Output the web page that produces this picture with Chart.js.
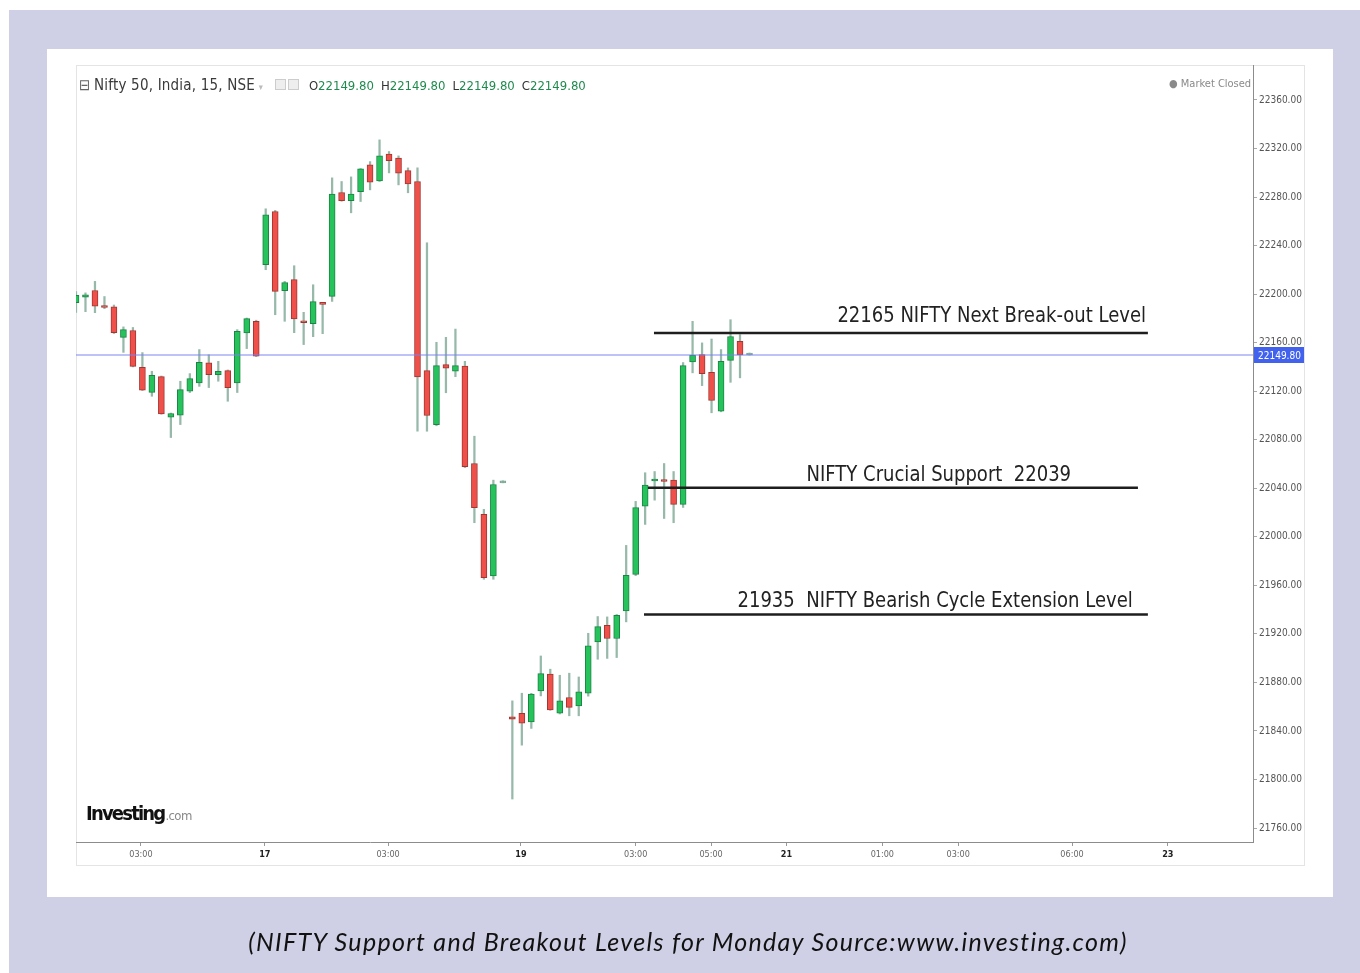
<!DOCTYPE html>
<html>
<head>
<meta charset="utf-8">
<script src="https://cdn.jsdelivr.net/npm/chart.js@4.4.1/dist/chart.umd.min.js"></script>
<style>
  html, body { margin: 0; padding: 0; background: #fff; }
  body { width: 1360px; height: 973px; position: relative; overflow: hidden; font-family: 'DejaVu Sans Condensed', 'DejaVu Sans', sans-serif; }
  #frame { position: absolute; left: 9px; top: 10px; right: 0; bottom: 0; background: #cfd0e6; }
  #panel { position: absolute; left: 47px; top: 49px; width: 1286px; height: 848px; background: #fff; }
  #widget { position: absolute; left: 76px; top: 65px; width: 1229px; height: 801px; border: 1px solid #e4e4e4; box-sizing: border-box; }
  #chart { position: absolute; left: 0; top: 0; }
  .hdr { position: absolute; top: 76px; left: 79px; font-size: 13px; color: #444; white-space: nowrap; }
  .hdr .box { font-size: 15px; color: #666; }
  .hdr .name { font-size: 15px; color: #3a3a3a; letter-spacing: 0.2px; }
  .hdr .v { color: #1f8a4e; margin-right: 7px; }
  .hdr .k { color: #333; }
  .hdr .ic { display: inline-block; width: 9px; height: 9px; border: 1px solid #ccc; background: #eee; margin-right: 2px; vertical-align: 0px; }
  .hdr .icons { margin-left: 12px; margin-right: 8px; }
  .mc { position: absolute; top: 77px; left: 1169px; font-size: 11px; color: #8a8a8a; }
  .logo { position: absolute; left: 86px; top: 801px; font-size: 20px; font-weight: bold; letter-spacing: -1.8px; color: #111; }
  .logo small { font-size: 13px; font-weight: normal; color: #888; letter-spacing: -0.6px; margin-left: 1px; }
  #caption { position: absolute; left: 0; width: 1376px; top: 926px; text-align: center; font: italic 25px Lato, 'Open Sans', sans-serif; letter-spacing: 1.3px; color: #111; }
</style>
</head>
<body>
<div id="frame"></div>
<div id="panel"></div>
<div id="widget"></div>
<canvas id="chart" width="1360" height="973"></canvas>
<div class="hdr"><span class="box">⊟</span> <span class="name">Nifty 50, India, 15, NSE</span> <span style="color:#bbb;font-size:9px">▾</span><span class="icons"><span class="ic"></span><span class="ic"></span></span><span class="k">O</span><span class="v">22149.80</span><span class="k">H</span><span class="v">22149.80</span><span class="k">L</span><span class="v">22149.80</span><span class="k">C</span><span class="v">22149.80</span></div>
<div class="mc">● Market Closed</div>
<div class="logo">Investing<small>.com</small></div>
<div id="caption">(NIFTY Support and Breakout Levels for Monday Source:www.investing.com)</div>
<script>
// 15-minute candles, Nifty 50 (one entry per candle, left to right)
const opens = [
  22193, 22197.5, 22203, 22190.5, 22189.6, 22164.4, 22170, 22139.7, 22119, 22132,
  22098.5, 22100.2, 22120, 22126.8, 22143.3, 22133.7, 22137, 22126.8, 22168, 22177.6,
  22224.2, 22268.1, 22202.8, 22211.9, 22177.6, 22175.6, 22192.7, 22198.1, 22283.7, 22277.1,
  22284.5, 22306.5, 22293.3, 22315.3, 22312, 22301.8, 22292.8, 22137, 22092.5, 22141.9,
  22136.4, 22140.6, 22060.4, 22018.5, 21967.7, 22044.5, 21851.7, 21854.6, 21847.5, 21873,
  21886.8, 21854.7, 21867.6, 21860.7, 21871.1, 21913.4, 21927.1, 21916.2, 21938.9, 21969.1,
  22025.3, 22046, 22046.2, 22046.7, 22026.7, 22144.1, 22150.1, 22135.6, 22103.5, 22145.4,
  22161, 22149.8
];
const highs = [
  22202, 22201, 22210.5, 22198, 22191, 22173, 22172.5, 22151.8, 22136.4, 22132.5,
  22102, 22128.2, 22134.5, 22154.3, 22150, 22144.6, 22137.5, 22170.7, 22180.3, 22178.5,
  22270.3, 22269, 22210.5, 22223.4, 22185, 22207.7, 22193, 22295.8, 22292.8, 22296.6,
  22303.5, 22309.2, 22327.1, 22317.5, 22313.9, 22304, 22304, 22242.3, 22160.3, 22164.4,
  22171.2, 22144.6, 22082.9, 22022.6, 22046.7, 22044.5, 21864.8, 21871.1, 21871, 21901.8,
  21890.9, 21885.9, 21887.6, 21884.5, 21920.5, 21934.3, 21934, 21936, 21992.9, 22029.2,
  22052.8, 22053.8, 22060.4, 22053.8, 22143.6, 22177.6, 22159.8, 22163, 22154.3, 22178.9,
  22166.6, 22149.8
];
const lows = [
  22185, 22185.5, 22184.7, 22188, 22167.5, 22152, 22140, 22120.5, 22115.8, 22101,
  22081.8, 22092.5, 22118.9, 22124, 22123, 22128.2, 22111.7, 22118.9, 22155.1, 22148.5,
  22220.1, 22183, 22177.6, 22168.2, 22158.4, 22164.9, 22167.4, 22194, 22276.5, 22267,
  22276.3, 22285.9, 22292.8, 22299.9, 22290, 22283.5, 22087, 22087, 22091.5, 22118.7,
  22132, 22057, 22011.6, 21965, 21965, 22044.5, 21783.9, 21828.3, 21842.1, 21868.9,
  21857, 21854, 21852.5, 21852.5, 21868.7, 21899.1, 21899.8, 21900.5, 21929.9, 21968,
  22010.2, 22030.2, 22015.1, 22011.6, 22024.2, 22135.1, 22124.6, 22102.2, 22103, 22127.3,
  22131, 22149.8
];
const closes = [
  22199, 22199.5, 22190, 22189, 22168.2, 22170.7, 22140.5, 22120.8, 22133, 22101.3,
  22101.6, 22121.3, 22130.4, 22143.8, 22133.7, 22136.4, 22122.8, 22169.4, 22179.8, 22148.8,
  22265.4, 22202.2, 22209.4, 22179.5, 22176.4, 22193.8, 22191.5, 22282.4, 22277.1, 22282.4,
  22303.2, 22292.3, 22313.9, 22310, 22299.7, 22290.9, 22131.8, 22100, 22141.1, 22139,
  22141.1, 22057.7, 22024, 21966.4, 22043.1, 22044.5, 21849.7, 21846.4, 21870.3, 21887.3,
  21857.4, 21864.8, 21859.4, 21872.3, 21910.1, 21926, 21916.2, 21935.3, 21968.3, 22024,
  22042.7, 22046.8, 22045.6, 22026.7, 22141.1, 22149.6, 22134.5, 22112.3, 22144.6, 22165.1,
  22149.8, 22149.8
];

// time axis labels, placed at candle slots (future slots continue past the data)
const xTickSlots = [6.85, 19.9, 32.9, 46.9, 59.0, 66.95, 74.9, 85.0, 93.0, 105.0, 115.1];
const xTickLabels = ['03:00', '17', '03:00', '19', '03:00', '05:00', '21', '01:00', '03:00', '06:00', '23'];
const yTickValues = [21760, 21800, 21840, 21880, 21920, 21960, 22000, 22040, 22080, 22120, 22160, 22200, 22240, 22280, 22320, 22360];

const lastPrice = 22149.8;

// drawn support / resistance levels
const levelValues = [22168, 22040.5, 21936];
const levelFrom = [60.93, 60.3, 59.88];
const levelTo = [113.0, 111.95, 113.0];
const levelLabels = ['22165 NIFTY Next Break-out Level', 'NIFTY Crucial Support  22039', '21935  NIFTY Bearish Cycle Extension Level'];

// label placement (slot of right edge, lift above line in px)
const labelLayout = [
  { end: 112.8, lift: 11 },
  { end: 104.9, lift: 7 },
  { end: 111.4, lift: 7 }
];

const X_MIN = 0;
const X_MAX = 124.08;
const FONT = "'DejaVu Sans Condensed', 'DejaVu Sans', sans-serif";

const UP = '#26c35c', DOWN = '#f0504a', UP_EDGE = '#1b8443', DOWN_EDGE = '#a33530', FLAT = '#7fa898';
const candleColor = (i, up, down, flat) =>
  closes[i] > opens[i] ? up : (closes[i] < opens[i] ? down : flat);

const wickData = opens.map((o, i) => ({ x: i, y: [lows[i], highs[i]] }));
const bodyData = opens.map((o, i) => ({ x: i, y: [opens[i], closes[i]] }));

const datasets = [
  {
    type: 'line',
    label: 'last',
    data: [{ x: X_MIN, y: lastPrice }, { x: X_MAX, y: lastPrice }],
    borderColor: 'rgba(120,130,240,0.65)',
    borderWidth: 1.5,
    pointRadius: 0,
    order: 0
  },
  ...levelValues.map((v, i) => ({
    type: 'line',
    label: levelLabels[i],
    data: [{ x: levelFrom[i], y: v }, { x: levelTo[i], y: v }],
    borderColor: '#1e1e1e',
    borderWidth: 2.5,
    pointRadius: 0,
    order: 1
  })),
  {
    type: 'bar',
    label: 'body',
    data: bodyData,
    grouped: false,
    barThickness: 6,
    minBarLength: 2,
    borderWidth: 1,
    borderSkipped: false,
    backgroundColor: opens.map((o, i) => candleColor(i, UP, DOWN, FLAT)),
    borderColor: opens.map((o, i) => candleColor(i, UP_EDGE, DOWN_EDGE, FLAT)),
    order: 2
  },
  {
    type: 'bar',
    label: 'wick',
    data: wickData,
    grouped: false,
    barThickness: 1.6,
    minBarLength: 2,
    backgroundColor: '#97b9aa',
    borderWidth: 0,
    order: 3
  }
];

const overlay = {
  id: 'overlay',
  afterDatasetsDraw(chart) {
    const { ctx, scales: { x, y } } = chart;
    ctx.save();
    ctx.font = '22px ' + FONT;
    ctx.fillStyle = '#222';
    ctx.textAlign = 'right';
    ctx.textBaseline = 'alphabetic';
    levelLabels.forEach((t, i) => {
      ctx.save();
      ctx.translate(x.getPixelForValue(labelLayout[i].end), y.getPixelForValue(levelValues[i]) - labelLayout[i].lift);
      ctx.scale(0.91, 1);
      ctx.fillText(t, 0, 0);
      ctx.restore();
    });
    ctx.restore();
  },
  afterDraw(chart) {
    const { ctx, chartArea, scales: { y } } = chart;
    const py = Math.round(y.getPixelForValue(lastPrice));
    ctx.save();
    ctx.fillStyle = '#4262ee';
    ctx.fillRect(chartArea.right + 1, py - 8, 50, 16);
    ctx.fillStyle = '#fff';
    ctx.font = '10px ' + FONT;
    ctx.textBaseline = 'middle';
    ctx.fillText(lastPrice.toFixed(2), chartArea.right + 5, py + 1);
    ctx.restore();
  }
};

new Chart(document.getElementById('chart'), {
  data: { datasets },
  plugins: [overlay],
  options: {
    responsive: false,
    animation: false,
    layout: { padding: { left: 76, top: 65, right: 0, bottom: 0 } },
    plugins: { legend: { display: false }, tooltip: { enabled: false } },
    scales: {
      x: {
        type: 'linear',
        min: X_MIN,
        max: X_MAX,
        offset: false,
        afterBuildTicks: (scale) => { scale.ticks = xTickSlots.map(v => ({ value: v })); },
        afterFit: (scale) => { scale.height = 973 - 842; },
        border: { display: true, color: '#8c8c8c', width: 1 },
        grid: { offset: false, drawOnChartArea: false, drawTicks: true, tickLength: 4, color: '#999' },
        ticks: {
          autoSkip: false,
          maxRotation: 0,
          padding: 3,
          callback: (v, i) => xTickLabels[i],
          color: (c) => /^\d+$/.test(xTickLabels[c.index]) ? '#222' : '#666',
          font: (c) => ({ family: FONT, size: 9, weight: /^\d+$/.test(xTickLabels[c.index]) ? 'bold' : 'normal' })
        }
      },
      y: {
        type: 'linear',
        position: 'right',
        min: 21748.5,
        max: 22388.8,
        afterBuildTicks: (scale) => { scale.ticks = yTickValues.map(v => ({ value: v })); },
        afterFit: (scale) => { scale.width = 1360 - 1253; },
        border: { display: true, color: '#8c8c8c', width: 1 },
        grid: { drawOnChartArea: false, drawTicks: true, tickLength: 4, color: '#aaa' },
        ticks: {
          padding: 2,
          color: '#555',
          font: { family: FONT, size: 10 },
          callback: (v) => Number(v).toFixed(2)
        }
      }
    }
  }
});
</script>
</body>
</html>
